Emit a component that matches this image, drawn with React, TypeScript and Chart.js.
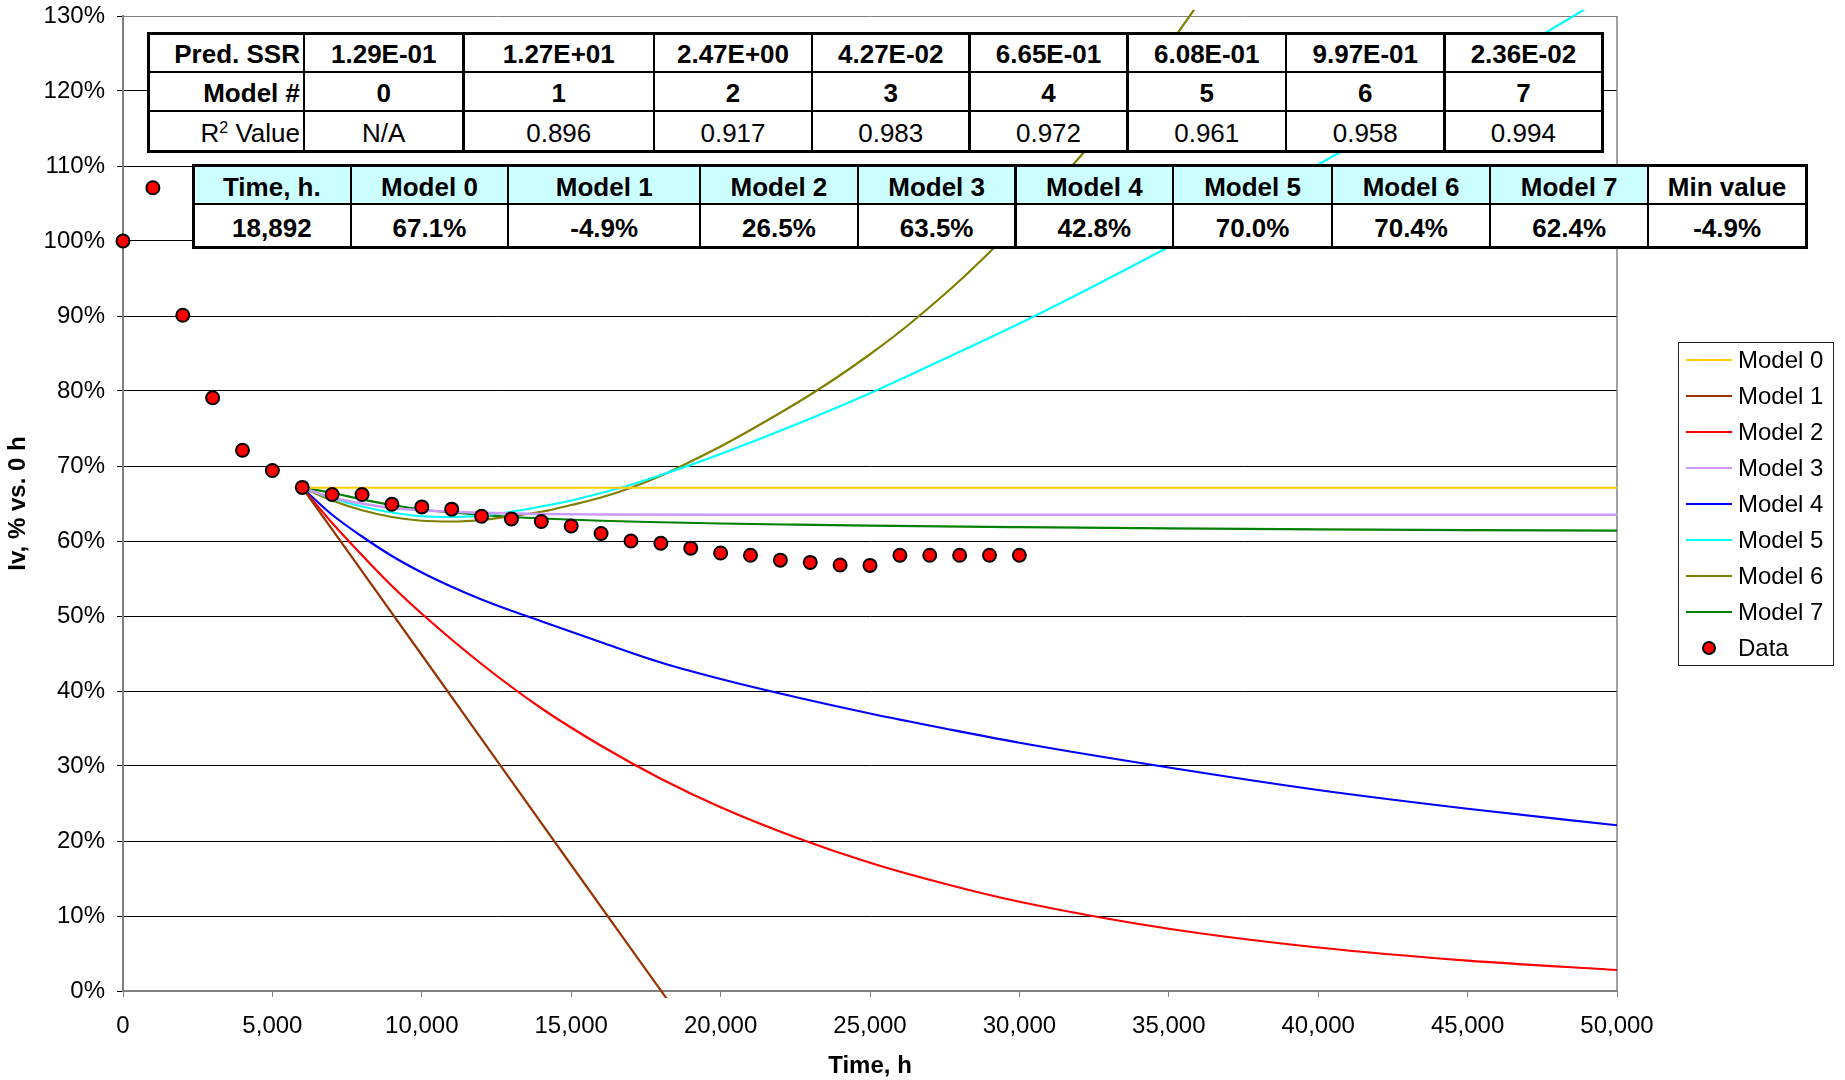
import React, { useEffect, useRef } from "react";
import { Chart, registerables } from "chart.js";

Chart.register(...registerables);

const FONT = '"Liberation Sans", Arial, Helvetica, sans-serif';

// ---------- measured data ----------
const dataTimes = [0, 1000, 2000, 3000, 4000, 5000, 6000, 7000, 8000, 9000, 10000, 11000, 12000, 13000, 14000, 15000, 16000, 17000, 18000, 19000, 20000, 21000, 22000, 23000, 24000, 25000, 26000, 27000, 28000, 29000, 30000];
const dataValues = [100, 107.1, 90.1, 79.1, 72.1, 69.4, 67.15, 66.2, 66.2, 64.9, 64.55, 64.25, 63.3, 62.95, 62.6, 62.0, 61.0, 60.0, 59.7, 59.05, 58.4, 58.1, 57.45, 57.15, 56.8, 56.75, 58.1, 58.1, 58.1, 58.1, 58.1];

// ---------- model curves ----------
const model0Times = [6000, 50000];
const model0Values = [67.1, 67.1];

const model1Times = [6000, 10000, 15000, 18892, 20000];
const model1Values = [67.1, 44.8, 16.8, -4.9, -11.1];

const model2Times = [6000, 7000, 8000, 9000, 10000, 12000, 14000, 16000, 18000, 20000, 22500, 25000, 27500, 30000, 35000, 40000, 45000, 50000];
const model2Values = [67.1, 62.4, 58.1, 54.0, 50.3, 43.6, 37.7, 32.7, 28.3, 24.5, 20.5, 17.1, 14.3, 11.9, 8.3, 5.8, 4.05, 2.8];

const model3Times = [6000, 7000, 8000, 9000, 10000, 11000, 12000, 14000, 16000, 20000, 30000, 40000, 50000];
const model3Values = [67.1, 65.8, 65.0, 64.4, 64.1, 63.9, 63.75, 63.6, 63.53, 63.5, 63.5, 63.5, 63.5];

const model4Times = [6000, 7000, 8000, 9000, 10000, 11000, 12000, 13000, 14000, 16000, 18000, 20000, 22500, 25000, 27500, 30000, 35000, 40000, 45000, 50000];
const model4Values = [67.1, 63.5, 60.6, 58.0, 55.8, 53.9, 52.2, 50.7, 49.3, 46.5, 43.8, 41.6, 39.2, 37.0, 35.0, 33.1, 29.8, 26.8, 24.3, 22.1];

const model5Times = [6000, 7000, 8000, 9000, 10000, 11000, 12000, 13000, 14000, 15000, 16000, 17000, 18000, 19000, 20000, 22500, 25000, 27500, 30000, 32500, 35000, 37500, 40000, 42500, 45000, 47500, 50000];
const model5Values = [67.1, 65.7, 64.6, 63.8, 63.3, 63.2, 63.4, 63.9, 64.6, 65.4, 66.4, 67.5, 68.8, 70.15, 71.6, 75.5, 79.7, 84.3, 89.0, 94.0, 99.2, 104.6, 110.2, 115.8, 121.6, 127.5, 133.5];

const model6Times = [6000, 7000, 8000, 9000, 10000, 11000, 12000, 13000, 14000, 15000, 16000, 17000, 18000, 19000, 20000, 21000, 22000, 23000, 24000, 25000, 26000, 27000, 28000, 29000, 30000, 31000, 32000, 33000, 34000, 35000, 36000];
const model6Values = [67.1, 65.4, 64.1, 63.2, 62.7, 62.6, 62.8, 63.3, 63.9, 64.8, 65.8, 67.1, 68.7, 70.6, 72.6, 74.8, 77.1, 79.5, 82.1, 84.9, 87.9, 91.2, 94.7, 98.5, 102.5, 106.7, 111.1, 115.9, 120.9, 126.1, 131.7];

const model7Times = [6000, 7000, 8000, 9000, 10000, 11000, 12000, 13000, 14000, 16000, 18000, 20000, 22500, 25000, 30000, 35000, 40000, 45000, 50000];
const model7Values = [67.1, 66.4, 65.55, 64.8, 64.2, 63.8, 63.48, 63.2, 63.0, 62.7, 62.5, 62.33, 62.18, 62.05, 61.85, 61.68, 61.56, 61.46, 61.38];

const modelLabels = ["Model 0", "Model 1", "Model 2", "Model 3", "Model 4", "Model 5", "Model 6", "Model 7"];
const modelColors = ["#FFCC00", "#993300", "#FF0000", "#CC99FF", "#0000FF", "#00FFFF", "#808000", "#008000"];

// ---------- table texts ----------
const ssrValues = ["1.29E-01", "1.27E+01", "2.47E+00", "4.27E-02", "6.65E-01", "6.08E-01", "9.97E-01", "2.36E-02"];
const modelNumbers = ["0", "1", "2", "3", "4", "5", "6", "7"];
const r2Values = ["N/A", "0.896", "0.917", "0.983", "0.972", "0.961", "0.958", "0.994"];
const predHeaders = ["Time, h.", "Model 0", "Model 1", "Model 2", "Model 3", "Model 4", "Model 5", "Model 6", "Model 7", "Min value"];
const predValues = ["18,892", "67.1%", "-4.9%", "26.5%", "63.5%", "42.8%", "70.0%", "70.4%", "62.4%", "-4.9%"];

// ---------- layout constants ----------
const W = 1845;
const H = 1080;
const T1X = [148.5, 304, 463.5, 654, 812, 969.5, 1127.5, 1286, 1444.5, 1602.3];
const T1Y = [33.2, 71.7, 111.2, 151];
const T2X = [193, 350.7, 508.3, 700.1, 857.8, 1015.5, 1173.2, 1332, 1490.2, 1648.2, 1806];
const T2Y = [165, 204.2, 247.3];
const LEG = { x: 1678, y: 342, w: 155, h: 323 };

type Cell = { text: React.ReactNode; bold?: boolean; align?: "center" | "right"; bg?: string };

function GridTable({ xs, ys, cells }: { xs: number[]; ys: number[]; cells: Cell[][] }) {
  const outer = 3;
  const inner = 2.3;
  const els: React.ReactNode[] = [];
  els.push(
    <div key="bg" style={{ position: "absolute", left: xs[0], top: ys[0], width: xs[xs.length - 1] - xs[0], height: ys[ys.length - 1] - ys[0], background: "#fff" }} />
  );
  cells.forEach((row, r) =>
    row.forEach((c, k) => {
      els.push(
        <div
          key={`c${r}-${k}`}
          style={{
            position: "absolute",
            left: xs[k],
            top: ys[r],
            width: xs[k + 1] - xs[k],
            height: ys[r + 1] - ys[r],
            background: c.bg || "#fff",
            display: "flex",
            alignItems: "center",
            justifyContent: c.align === "right" ? "flex-end" : "center",
            boxSizing: "border-box",
            paddingTop: 4,
            paddingRight: c.align === "right" ? 4 : 0,
            fontFamily: FONT,
            fontSize: 26,
            fontWeight: c.bold ? "bold" : "normal",
            color: "#000",
            whiteSpace: "nowrap",
            lineHeight: 1,
          }}
        >
          {c.text}
        </div>
      );
    })
  );
  xs.forEach((x, i) => {
    const w = i === 0 || i === xs.length - 1 ? outer : inner;
    els.push(
      <div key={`v${i}`} style={{ position: "absolute", left: x - w / 2, top: ys[0] - outer / 2, width: w, height: ys[ys.length - 1] - ys[0] + outer, background: "#000" }} />
    );
  });
  ys.forEach((y, i) => {
    const w = i === 0 || i === ys.length - 1 ? outer : inner;
    els.push(
      <div key={`h${i}`} style={{ position: "absolute", left: xs[0] - outer / 2, top: y - w / 2, width: xs[xs.length - 1] - xs[0] + outer, height: w, background: "#000" }} />
    );
  });
  return <>{els}</>;
}

export default function App() {
  const ref = useRef<HTMLCanvasElement>(null);

  useEffect(() => {
    const canvas = ref.current;
    if (!canvas) return;
    const mk = (t: number[], v: number[]) => t.map((x, i) => ({ x, y: v[i] }));
    const modelTimes = [model0Times, model1Times, model2Times, model3Times, model4Times, model5Times, model6Times, model7Times];
    const modelValues = [model0Values, model1Values, model2Values, model3Values, model4Values, model5Values, model6Values, model7Values];

    const datasets: any[] = modelLabels.map((label, i) => ({
      label,
      data: mk(modelTimes[i], modelValues[i]),
      borderColor: modelColors[i],
      backgroundColor: modelColors[i],
      borderWidth: i === 3 ? 2.6 : 2.2,
      pointRadius: 0,
      pointHoverRadius: 0,
      showLine: true,
      fill: false,
      cubicInterpolationMode: "monotone",
      order: 1,
      clip: { left: 0, right: 0, top: 6, bottom: 7 },
    }));
    datasets.push({
      label: "Data",
      data: mk(dataTimes, dataValues),
      showLine: false,
      pointRadius: 6.5,
      pointHoverRadius: 6.5,
      pointBackgroundColor: "#FF0000",
      pointBorderColor: "#000",
      pointBorderWidth: 2,
      borderColor: "#000",
      backgroundColor: "#FF0000",
      order: 0,
      clip: { left: 10, right: 10, top: 10, bottom: 10 },
    });

    const borderPlugin = {
      id: "plotBorder",
      beforeDatasetsDraw(chart: any) {
        const { ctx, chartArea: ca } = chart;
        ctx.save();
        ctx.strokeStyle = "#808080";
        ctx.lineWidth = 1.5;
        ctx.beginPath();
        ctx.moveTo(ca.right, ca.top);
        ctx.lineTo(ca.right, ca.bottom);
        ctx.stroke();
        ctx.restore();
      },
    };

    const legendPlugin = {
      id: "boxLegend",
      afterDraw(chart: any) {
        const ctx = chart.ctx as CanvasRenderingContext2D;
        ctx.save();
        ctx.fillStyle = "#fff";
        ctx.fillRect(LEG.x, LEG.y, LEG.w, LEG.h);
        ctx.strokeStyle = "#222";
        ctx.lineWidth = 1;
        ctx.strokeRect(LEG.x + 0.5, LEG.y + 0.5, LEG.w, LEG.h);
        ctx.font = `24px ${FONT}`;
        ctx.textBaseline = "middle";
        ctx.textAlign = "left";
        chart.data.datasets.forEach((ds: any, i: number) => {
          const y = LEG.y + 18 + i * 36;
          if (ds.showLine) {
            ctx.strokeStyle = ds.borderColor;
            ctx.lineWidth = 2.2;
            ctx.beginPath();
            ctx.moveTo(LEG.x + 8, y);
            ctx.lineTo(LEG.x + 54, y);
            ctx.stroke();
          } else {
            ctx.fillStyle = ds.pointBackgroundColor;
            ctx.strokeStyle = ds.pointBorderColor;
            ctx.lineWidth = 2;
            ctx.beginPath();
            ctx.arc(LEG.x + 31, y, 6, 0, Math.PI * 2);
            ctx.fill();
            ctx.stroke();
          }
          ctx.fillStyle = "#000";
          ctx.fillText(ds.label, LEG.x + 60, y + 1);
        });
        ctx.restore();
      },
    };

    const chart = new Chart(canvas, {
      type: "line",
      data: { datasets },
      options: {
        animation: false,
        responsive: false,
        devicePixelRatio: 1,
        events: [],
        layout: { autoPadding: false, padding: { left: 0, top: 16, right: 228, bottom: 0 } },
        plugins: { legend: { display: false }, tooltip: { enabled: false } },
        scales: {
          x: {
            type: "linear",
            min: 0,
            max: 50000,
            ticks: {
              stepSize: 5000,
              color: "#000",
              font: { family: FONT, size: 24 },
              padding: 15,
              maxRotation: 0,
              autoSkip: false,
              callback: (v: any) => Number(v).toLocaleString("en-US"),
            },
            grid: { drawOnChartArea: false, color: "#808080", tickColor: "#808080", tickLength: 6 },
            border: { color: "#808080", width: 2 },
            title: {
              display: true,
              text: "Time, h",
              color: "#000",
              font: { family: FONT, size: 24, weight: "bold", lineHeight: 1.1 },
              padding: { top: 0, bottom: 0 },
            },
            afterFit: (s: any) => {
              s.height = 89;
              s.paddingLeft = 0;
              s.paddingRight = 0;
            },
          },
          y: {
            type: "linear",
            min: 0,
            max: 130,
            ticks: {
              stepSize: 10,
              color: "#000",
              font: { family: FONT, size: 24 },
              padding: 12,
              callback: (v: any) => `${v}%`,
            },
            grid: {
              color: (c: any) => (c.tick && c.tick.value === 130 ? "#808080" : "#000"),
              lineWidth: 1,
              tickColor: "#000",
              tickLength: 6,
            },
            border: { color: "#808080", width: 2 },
            title: {
              display: true,
              text: "Iv, % vs. 0 h",
              color: "#000",
              font: { family: FONT, size: 24, weight: "bold", lineHeight: 1.1 },
              padding: { top: 5, bottom: 0 },
            },
            afterFit: (s: any) => {
              s.width = 123;
              s.paddingTop = 0;
              s.paddingBottom = 0;
            },
          },
        },
      } as any,
      plugins: [borderPlugin, legendPlugin],
    });
    return () => chart.destroy();
  }, []);

  const t1Cells: Cell[][] = [
    [{ text: "Pred. SSR", bold: true, align: "right" }, ...ssrValues.map((s) => ({ text: s, bold: true }))],
    [{ text: "Model #", bold: true, align: "right" }, ...modelNumbers.map((s) => ({ text: s, bold: true }))],
    [
      {
        text: (
          <span>
            R<span style={{ fontSize: 16, position: "relative", top: -9 }}>2</span> Value
          </span>
        ),
        align: "right",
      },
      ...r2Values.map((s) => ({ text: s })),
    ],
  ];
  const t2Cells: Cell[][] = [
    predHeaders.map((s, i) => ({ text: s, bold: true, bg: i < predHeaders.length - 1 ? "#CCFFFF" : "#fff" })),
    predValues.map((s) => ({ text: s, bold: true })),
  ];

  return (
    <div style={{ position: "fixed", left: 0, top: 0, width: W, height: H, background: "#fff", overflow: "hidden" }}>
      <canvas ref={ref} width={W} height={H} style={{ position: "absolute", left: 0, top: 0, width: W, height: H }} />
      <GridTable xs={T1X} ys={T1Y} cells={t1Cells} />
      <GridTable xs={T2X} ys={T2Y} cells={t2Cells} />
    </div>
  );
}
